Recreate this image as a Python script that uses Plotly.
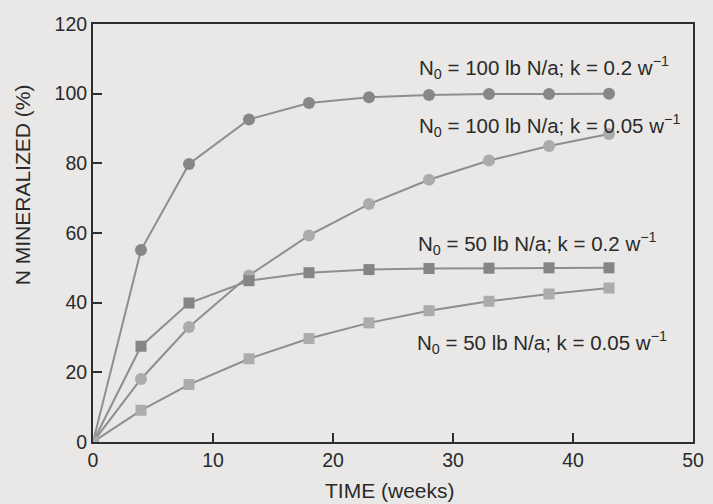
import plotly.graph_objects as go

# Sampling times (weeks)
weeks = [0, 4, 8, 13, 18, 23, 28, 33, 38, 43]

# Percent N mineralized for each pool size / rate constant
n100_k020 = [0, 55.1, 79.8, 92.6, 97.3, 99.0, 99.6, 99.9, 99.9, 100.0]
n100_k005 = [0, 18.1, 33.0, 47.8, 59.3, 68.3, 75.3, 80.8, 85.0, 88.4]
n50_k020 = [0, 27.5, 39.9, 46.3, 48.6, 49.5, 49.8, 49.9, 50.0, 50.0]
n50_k005 = [0, 9.1, 16.5, 23.9, 29.7, 34.2, 37.7, 40.4, 42.5, 44.2]

series_labels = [
    "N<sub>0</sub> = 100 lb N/a; k = 0.2 w<sup>−1</sup>",
    "N<sub>0</sub> = 100 lb N/a; k = 0.05 w<sup>−1</sup>",
    "N<sub>0</sub> = 50 lb N/a; k = 0.2 w<sup>−1</sup>",
    "N<sub>0</sub> = 50 lb N/a; k = 0.05 w<sup>−1</sup>",
]
label_pos = [(27.0, 107.5), (27.0, 91.0), (26.9, 57.0), (26.8, 28.5)]

x_ticks = [0, 10, 20, 30, 40, 50]
y_ticks = [0, 20, 40, 60, 80, 100, 120]

FONT = "Liberation Sans, Arial, sans-serif"
INK = "#2a2a2a"
LINE = "#8e8e8e"
W, H = 713, 504
M = dict(l=93, r=9, t=24, b=62)

fig = go.Figure()

styles = [
    (n100_k020, "circle", "#878787"),
    (n100_k005, "circle", "#ababab"),
    (n50_k020, "square", "#858585"),
    (n50_k005, "square", "#acacac"),
]
for (vals, sym, col), name in zip(styles, series_labels):
    fig.add_trace(go.Scatter(
        x=weeks, y=vals, mode="lines+markers", name=name,
        line=dict(color=LINE, width=2),
        marker=dict(symbol=sym, size=12 if sym == "circle" else 11, color=col,
                    line=dict(width=0)),
        showlegend=False,
    ))

for text, (ax, ay) in zip(series_labels, label_pos):
    fig.add_annotation(x=ax, y=ay, text=text, showarrow=False,
                       xanchor="left", yanchor="middle",
                       font=dict(family=FONT, size=20.5, color=INK))

# Axis titles placed in paper space (pixel positions converted to fractions)
pw = W - M["l"] - M["r"]
ph = H - M["t"] - M["b"]
fig.add_annotation(xref="paper", yref="paper",
                   x=(395 - M["l"]) / pw, y=(H - M["b"] - 490) / ph,
                   text="TIME (weeks)", showarrow=False,
                   xanchor="center", yanchor="middle",
                   font=dict(family=FONT, size=21, color=INK))
fig.add_annotation(xref="paper", yref="paper",
                   x=(22 - M["l"]) / pw, y=(H - M["b"] - 185) / ph,
                   text="N MINERALIZED (%)", showarrow=False, textangle=-90,
                   xanchor="center", yanchor="middle",
                   font=dict(family=FONT, size=21, color=INK))

axis_common = dict(
    showline=True, linecolor="#2e2e2e", linewidth=2, mirror=True,
    showgrid=False, zeroline=False,
    ticks="inside", ticklen=9, tickwidth=2, tickcolor="#2e2e2e",
    tickfont=dict(family=FONT, size=19.5, color=INK),
)

fig.update_xaxes(range=[0, 50], tickvals=x_ticks, **axis_common)
fig.update_yaxes(range=[0, 120], tickvals=y_ticks, **axis_common)

fig.update_layout(
    width=W, height=H,
    margin=M,
    paper_bgcolor="#e9e8e6", plot_bgcolor="#e9e8e6",
)

fig.write_html("out.html")
